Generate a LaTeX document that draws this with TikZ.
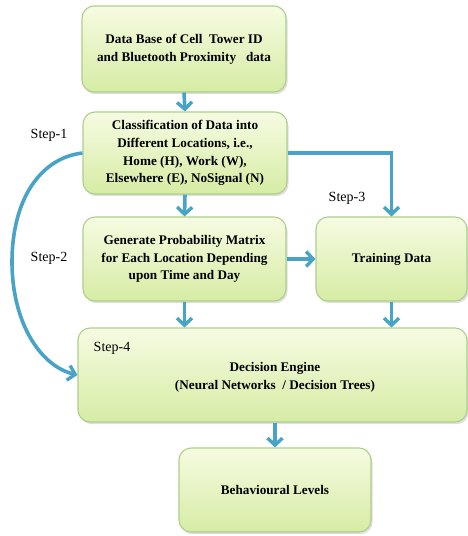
\documentclass[tikz,border=0pt]{standalone}
\usepackage{fontspec}
\setmainfont{Liberation Serif}
\usetikzlibrary{arrows.meta,shadows}
\definecolor{flowblue}{RGB}{72,163,198}
\definecolor{boxedge}{RGB}{172,208,140}
\definecolor{boxtop}{RGB}{246,251,226}
\definecolor{boxbot}{RGB}{214,236,164}
\tikzset{
  stagebox/.style={draw=boxedge, line width=1.1pt, rounded corners=12pt,
    top color=boxtop, bottom color=boxbot, align=center,
    font=\bfseries\fontsize{13.2}{17.8}\selectfont, inner sep=2pt,
    drop shadow={shadow xshift=1.5pt, shadow yshift=-2.2pt, opacity=0.25, fill=gray}},
  steplabel/.style={font=\fontsize{14}{16}\selectfont, inner sep=0pt},
  flow/.style={draw=flowblue, line width=3.6pt,
    -{Straight Barb[length=7pt,width=15pt,line width=3.4pt]}},
}
\begin{document}
\begin{tikzpicture}[x=1pt,y=-1pt]
\useasboundingbox (0,0) rectangle (468,536);

% processing stages
\node[stagebox, minimum width=204pt, minimum height=86pt] (db) at (184,49)
  {Data Base of Cell\ \ Tower ID\\and Bluetooth Proximity\ \ \ data};
\node[stagebox, minimum width=204pt, minimum height=82pt] (cls) at (185,153)
  {Classification\ of Data into\\Different\ Locations, i.e.,\\Home (H), Work (W),\\Elsewhere (E),\ NoSignal (N)};
\node[stagebox, minimum width=203pt, minimum height=84pt] (gen) at (184.5,259)
  {Generate\ Probability Matrix\\for Each Location Depending\\upon Time\ and Day};
\node[stagebox, minimum width=151pt, minimum height=84pt] (train) at (391.5,259)
  {Training Data};
\node[stagebox, minimum width=389pt, minimum height=94pt] (eng) at (272.5,375) {};
\node[align=center, font=\bfseries\fontsize{13.2}{17.8}\selectfont] (engtext) at (275,377)
  {Decision Engine\\(Neural Networks\ \ / Decision Trees)};
\node[stagebox, minimum width=192pt, minimum height=84pt] (beh) at (275,490)
  {Behavioural Levels};

% step labels
\node[steplabel] (s1) at (49,135) {Step-1};
\node[steplabel] (s2) at (49,258) {Step-2};
\node[steplabel] (s3) at (347,198) {Step-3};
\node[steplabel] (s4) at (112,348) {Step-4};

% connectors
\draw[flow] (db.south) -- (cls.north);
\draw[flow] (cls.south) -- (gen.north);
\draw[flow] (cls.east) -| (train.north);
\draw[flow] (gen.east) -- (train.west);
\draw[flow] (gen.south) -- (gen.south |- eng.north);
\draw[flow] (train.south) -- (train.south |- eng.north);
\draw[flow] (beh.north |- eng.south) -- (beh.north);
\draw[flow] (cls.west) .. controls (40,158) and (12,200) .. (12,262)
  .. controls (12,322) and (40,366) .. (eng.west);
\end{tikzpicture}
\end{document}
